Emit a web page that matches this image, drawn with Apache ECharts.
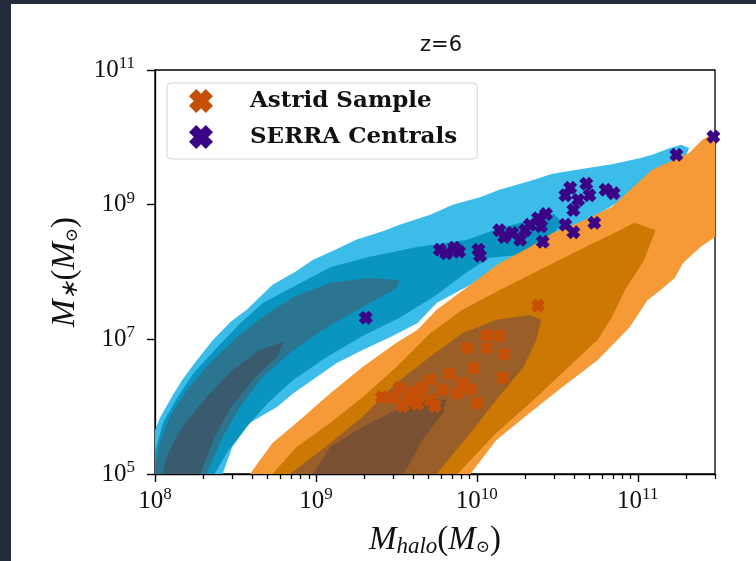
<!DOCTYPE html>
<html>
<head>
<meta charset="utf-8">
<script src="https://cdn.jsdelivr.net/npm/echarts@6/dist/echarts.min.js"></script>
<style>
  html, body { margin: 0; padding: 0; background: #222a3b; }
  #panel { position: absolute; left: 11px; top: 4px; width: 745px; height: 557px; background: #fff; }
  #chart { position: absolute; left: 0; top: 0; width: 756px; height: 561px; }
</style>
</head>
<body>
<div id="panel"></div>
<div id="chart"></div>
<script>
// all values are log10(M / Msun)
const xTicks = [8, 9, 10, 11];
const yTicks = [5, 7, 9, 11];
const xMinorTicks = [8.301, 8.477, 8.602, 8.699, 8.778, 8.845, 8.903, 8.954,
  9.301, 9.477, 9.602, 9.699, 9.778, 9.845, 9.903, 9.954,
  10.301, 10.477, 10.602, 10.699, 10.778, 10.845, 10.903, 10.954,
  11.301, 11.477];

// SERRA centrals [log Mhalo, log Mstar]
const serra = [
  [9.31, 7.32], [9.77, 8.33], [9.81, 8.28], [9.86, 8.36], [9.89, 8.30],
  [10.01, 8.33], [10.02, 8.24], [10.14, 8.62], [10.17, 8.52], [10.22, 8.58],
  [10.27, 8.48], [10.30, 8.62], [10.33, 8.70], [10.38, 8.80], [10.40, 8.68],
  [10.43, 8.86], [10.41, 8.45], [10.55, 9.14], [10.58, 9.25], [10.60, 8.92],
  [10.63, 9.07], [10.68, 9.31], [10.70, 9.14], [10.55, 8.70], [10.60, 8.59],
  [10.73, 8.73], [10.80, 9.22], [10.85, 9.17], [11.24, 9.74], [11.47, 10.01]
];

// Astrid sample
const astrid = [
  [10.38, 7.50], [10.06, 7.06], [10.14, 7.05], [9.94, 6.87], [10.06, 6.87],
  [10.17, 6.78], [9.98, 6.57], [9.83, 6.49], [9.71, 6.40], [10.16, 6.43],
  [9.91, 6.35], [9.96, 6.26], [9.52, 6.28], [9.60, 6.22], [9.66, 6.29],
  [9.79, 6.25], [9.41, 6.14], [9.48, 6.13], [9.57, 6.10], [9.63, 6.14],
  [9.71, 6.10], [9.54, 6.01], [9.63, 6.04], [9.74, 6.01], [10.00, 6.05],
  [9.88, 6.20]
];

// density contour outlines, outermost level first
const blueOuter = [
  [8.00, 5.00], [8.00, 5.65], [8.03, 5.83], [8.11, 6.17], [8.17, 6.40], [8.25, 6.66],
  [8.36, 6.99], [8.47, 7.26], [8.57, 7.44], [8.73, 7.81], [8.87, 8.00], [8.98, 8.18],
  [9.12, 8.33], [9.25, 8.48], [9.42, 8.61], [9.52, 8.70], [9.71, 8.85], [9.85, 9.00],
  [10.02, 9.11], [10.14, 9.22], [10.33, 9.35], [10.47, 9.46], [10.68, 9.54], [10.84, 9.60],
  [11.01, 9.69], [11.09, 9.74], [11.20, 9.84], [11.27, 9.89], [11.32, 9.84], [11.26, 9.52],
  [11.01, 9.22], [10.64, 8.70], [10.27, 8.21], [9.96, 7.81], [9.75, 7.54], [9.63, 7.24],
  [9.46, 7.03], [9.29, 6.84], [9.13, 6.65], [8.98, 6.40], [8.86, 6.20], [8.76, 6.00],
  [8.59, 5.76], [8.48, 5.40], [8.42, 5.00]
];
const blueMid = [
  [8.00, 5.00], [8.00, 5.33], [8.05, 5.76], [8.14, 6.14], [8.24, 6.50], [8.39, 6.89],
  [8.53, 7.24], [8.67, 7.54], [8.86, 7.78], [9.09, 8.07], [9.32, 8.22], [9.63, 8.37],
  [9.94, 8.48], [10.14, 8.65], [10.33, 8.77], [10.48, 8.86], [10.53, 8.74], [10.42, 8.40],
  [10.24, 8.25], [10.08, 8.21], [9.94, 8.00], [9.73, 7.63], [9.52, 7.32], [9.29, 7.05],
  [9.07, 6.74], [8.86, 6.40], [8.70, 6.05], [8.57, 5.70], [8.45, 5.33], [8.37, 5.00]
];
const blueInner = [
  [8.00, 5.00], [8.00, 5.12], [8.03, 5.46], [8.09, 5.85], [8.20, 6.25], [8.34, 6.65],
  [8.51, 7.03], [8.67, 7.33], [8.86, 7.63], [9.09, 7.84], [9.32, 7.91], [9.52, 7.88],
  [9.50, 7.76], [9.29, 7.48], [9.04, 7.14], [8.84, 6.80], [8.67, 6.44], [8.53, 6.00],
  [8.42, 5.55], [8.32, 5.00]
];
const blueCore = [
  [8.05, 5.00], [8.07, 5.25], [8.17, 5.70], [8.32, 6.14], [8.48, 6.54], [8.65, 6.84],
  [8.80, 6.96], [8.76, 6.75], [8.62, 6.43], [8.48, 6.02], [8.37, 5.55], [8.28, 5.00]
];
const orangeOuter = [
  [8.59, 5.00], [8.73, 5.46], [8.88, 5.76], [9.09, 6.20], [9.29, 6.59], [9.50, 6.95],
  [9.63, 7.14], [9.75, 7.44], [9.96, 7.81], [10.14, 8.13], [10.33, 8.37], [10.47, 8.58],
  [10.64, 8.74], [10.84, 8.97], [10.97, 9.26], [11.09, 9.52], [11.22, 9.66], [11.32, 9.77],
  [11.40, 9.96], [11.48, 10.08], [11.48, 8.52], [11.39, 8.37], [11.28, 8.13], [11.23, 7.91],
  [11.14, 7.73], [11.06, 7.58], [10.95, 7.18], [10.75, 6.69], [10.53, 6.29], [10.33, 5.91],
  [10.12, 5.50], [9.96, 5.00]
];
const orangeMid = [
  [8.73, 5.00], [8.88, 5.40], [9.09, 5.76], [9.29, 6.14], [9.50, 6.59], [9.71, 7.09],
  [9.91, 7.44], [10.14, 7.73], [10.39, 8.03], [10.64, 8.33], [10.83, 8.55], [10.98, 8.73],
  [11.11, 8.62], [11.04, 8.18], [10.92, 7.73], [10.84, 7.33], [10.75, 6.99], [10.53, 6.50],
  [10.33, 6.05], [10.12, 5.61], [9.88, 5.00]
];
const orangeInner = [
  [8.84, 5.00], [9.09, 5.46], [9.29, 5.85], [9.50, 6.35], [9.71, 6.74], [9.91, 7.09],
  [10.12, 7.29], [10.33, 7.36], [10.40, 7.29], [10.37, 6.99], [10.29, 6.59], [10.12, 6.10],
  [9.96, 5.61], [9.75, 5.00]
];
const orangeCore = [
  [8.98, 5.00], [9.09, 5.40], [9.29, 5.70], [9.50, 5.95], [9.71, 6.13], [9.81, 6.10],
  [9.79, 5.91], [9.66, 5.50], [9.57, 5.10], [9.54, 5.00]
];

const xMark = 'path://M0,3 L3,0 L5,2 L7,0 L10,3 L8,5 L10,7 L7,10 L5,8 L3,10 L0,7 L2,5 Z';
const serif = 'Liberation Serif';

function contour(points, color, z) {
  return {
    type: 'custom',
    silent: true,
    z: z,
    data: [points[0]],
    renderItem: function (params, api) {
      const cs = params.coordSys;
      return {
        type: 'polygon',
        shape: { points: points.map(function (p) { return api.coord(p); }) },
        style: { fill: color },
        clipPath: { type: 'rect', shape: { x: cs.x, y: cs.y, width: cs.width, height: cs.height } }
      };
    }
  };
}

function powLabel(v) {
  return '{b|10}{s|' + Math.round(v) + '}';
}
const tickRich = {
  b: { fontFamily: serif, fontSize: 25, color: '#111' },
  s: { fontFamily: serif, fontSize: 17, color: '#111', padding: [0, 0, 13, 0] }
};
const nameRich = {
  i: { fontFamily: serif, fontStyle: 'italic', fontSize: 33, color: '#111' },
  n: { fontFamily: serif, fontSize: 33, color: '#111' },
  sub: { fontFamily: serif, fontStyle: 'italic', fontSize: 23, color: '#111', padding: [12, 0, 0, 0] },
  sun: { fontFamily: 'DejaVu Serif', fontSize: 17, color: '#111', padding: [14, 0, 0, 0] }
};

const chart = echarts.init(document.getElementById('chart'));
chart.setOption({
  animation: false,
  backgroundColor: 'transparent',
  title: {
    text: 'z=6',
    left: 436,
    top: 30,
    textAlign: 'center',
    textStyle: { fontFamily: 'DejaVu Sans', fontWeight: 'normal', fontSize: 21, color: '#111' }
  },
  grid: {
    left: 155, right: 41, top: 70, bottom: 87,
    outerBoundsMode: 'none',
    show: true, borderColor: '#000', borderWidth: 1.3
  },
  legend: {
    data: ['Astrid Sample', 'SERRA Centrals'],
    orient: 'vertical',
    left: 167, top: 83,
    padding: [6, 20, 10, 22],
    itemWidth: 24, itemHeight: 24, itemGap: 12,
    icon: xMark,
    borderColor: '#d4d4d4', borderWidth: 1, borderRadius: 4,
    backgroundColor: 'rgba(255,255,255,0.85)',
    textStyle: { fontFamily: 'DejaVu Serif', fontWeight: 'bold', fontSize: 23, color: '#111', padding: [0, 0, 0, 32] }
  },
  xAxis: {
    type: 'value', min: 8, max: 11.48,
    splitLine: { show: false },
    axisLine: { show: true, onZero: false, lineStyle: { color: '#000', width: 1.3 } },
    axisTick: { show: true, length: 8, customValues: xTicks, lineStyle: { color: '#000', width: 1.4 } },
    axisLabel: { customValues: xTicks, formatter: powLabel, rich: tickRich, margin: 12 },
    name: '{i|M}{sub|halo}{n|(}{i|M}{sun|⊙}{n|)}',
    nameLocation: 'middle', nameGap: 49,
    nameTextStyle: { rich: nameRich }
  },
  yAxis: {
    type: 'value', min: 5, max: 11,
    splitLine: { show: false },
    axisLine: { show: true, onZero: false, lineStyle: { color: '#000', width: 1.3 } },
    axisTick: { show: true, length: 8, customValues: yTicks, lineStyle: { color: '#000', width: 1.4 } },
    axisLabel: { customValues: yTicks, formatter: powLabel, rich: tickRich, margin: 20 },
    name: '{i|M}{sub|∗}{n|(}{i|M}{sun|⊙}{n|)}',
    nameLocation: 'middle', nameGap: 72, nameRotate: 90,
    nameTextStyle: { rich: nameRich }
  },
  series: [
    contour(blueOuter, '#3cbce9', 1),
    contour(blueMid, '#0a95c0', 2),
    contour(blueInner, '#2c7590', 3),
    contour(blueCore, '#3a5a6e', 4),
    contour(orangeOuter, '#f59a36', 5),
    contour(orangeMid, '#cb7805', 6),
    contour(orangeInner, '#9a5f28', 7),
    contour(orangeCore, '#7a5032', 8),
    {
      name: 'Astrid Sample', type: 'scatter', z: 10,
      symbol: xMark, symbolSize: 14,
      itemStyle: { color: '#c64f06', opacity: 1 },
      data: astrid
    },
    {
      name: 'SERRA Centrals', type: 'scatter', z: 11,
      symbol: xMark, symbolSize: 14,
      itemStyle: { color: '#3b0486', opacity: 1 },
      data: serra
    }
  ]
});

// log-spaced minor ticks under the x axis, placed through the axis scale
const minorLines = xMinorTicks.map(function (v) {
  const p = chart.convertToPixel({ xAxisIndex: 0, yAxisIndex: 0 }, [v, 5]);
  const x = Math.round(p[0]) + 0.5;
  return {
    type: 'line', silent: true, z: 20,
    shape: { x1: x, y1: p[1], x2: x, y2: p[1] + 5 },
    style: { stroke: '#000', lineWidth: 1.3 }
  };
});
chart.setOption({ graphic: minorLines });
</script>
</body>
</html>
